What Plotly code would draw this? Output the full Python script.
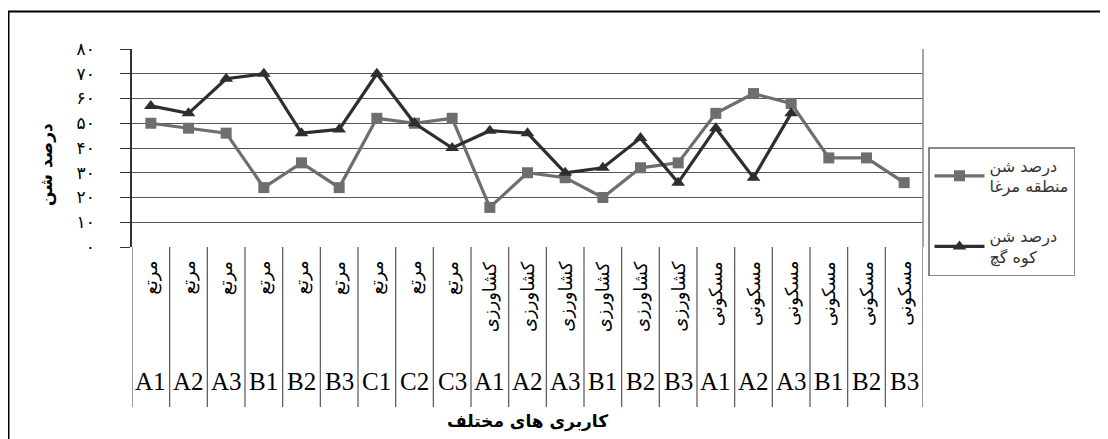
import plotly.graph_objects as go

# ---- data ----
land_use = ["مرتع"] * 9 + ["کشاورزی"] * 6 + ["مسکونی"] * 6
codes = ["A1", "A2", "A3", "B1", "B2", "B3", "C1", "C2", "C3",
         "A1", "A2", "A3", "B1", "B2", "B3",
         "A1", "A2", "A3", "B1", "B2", "B3"]
sand_margha = [50, 48, 46, 24, 34, 24, 52, 50, 52, 16, 30, 28, 20, 32, 34,
               54, 62, 58, 36, 36, 26]
sand_kuh_gach = [57, 54, 68, 70, 46, 47.5, 70, 50, 40, 47, 46, 30, 32, 44, 26,
                 48, 28, 54, None, None, None]
name_margha = "درصد شن<br>منطقه مرغا"
name_kuh = "درصد شن<br>کوه گچ"
y_ticks = [0, 10, 20, 30, 40, 50, 60, 70, 80]
y_ticktext = ["۰", "۱۰", "۲۰", "۳۰", "۴۰", "۵۰", "۶۰", "۷۰", "۸۰"]
y_title = "درصد شن"
x_title = "کاربری های مختلف"

n = len(codes)
xs = list(range(n))

W, H = 1108, 439
OFF = 8  # page body offset
L, R, T, B = 124, 193, 41, 200
pw, ph = W - L - R, H - T - B

def sx(p):  # screen pixel -> paper x
    return (p - OFF - L) / pw

def sy(p):  # screen pixel -> paper y
    return (H - B - (p - OFF)) / ph

fig = go.Figure()
fig.add_trace(go.Scatter(
    x=xs, y=sand_margha, name=name_margha, mode="lines+markers",
    line=dict(color="#6e6e6e", width=3.2),
    marker=dict(symbol="square", size=11, color="#6e6e6e"),
    legendgroup="a"))
fig.add_trace(go.Scatter(
    x=xs, y=sand_kuh_gach, name=name_kuh, mode="lines+markers",
    line=dict(color="#2e2e2e", width=3.2),
    marker=dict(symbol="triangle-up", size=12, color="#2e2e2e"),
    legendgroup="b"))

shapes = []
# category table dividers
for b in range(n + 1):
    shapes.append(dict(type="line", xref="x", yref="paper",
                       x0=b - 0.5, x1=b - 0.5, y0=0, y1=sy(407),
                       line=dict(color="#555", width=1.2)))
# right edge of plot area
shapes.append(dict(type="line", xref="paper", yref="paper", x0=1, x1=1,
                   y0=0, y1=1, line=dict(color="#888", width=1.5)))
# outer frame
shapes.append(dict(type="rect", xref="paper", yref="paper",
                   x0=sx(8.5), x1=sx(1125), y0=sy(11.5), y1=sy(460),
                   line=dict(color="black", width=2)))

annotations = []
for i in range(n):
    annotations.append(dict(x=i, xref="x", y=sy(259), yref="paper",
                            text=land_use[i], textangle=-90, showarrow=False,
                            xanchor="center", yanchor="top",
                            font=dict(family="DejaVu Sans", size=18, color="black")))
    annotations.append(dict(x=i, xref="x", y=sy(381), yref="paper",
                            text=codes[i], showarrow=False,
                            xanchor="center", yanchor="middle",
                            font=dict(family="Liberation Serif", size=25, color="black")))
annotations.append(dict(x=sx(46), xref="paper", y=sy(165), yref="paper",
                        text="<b>" + y_title + "</b>", textangle=-90, showarrow=False,
                        xanchor="center", yanchor="middle",
                        font=dict(family="DejaVu Sans", size=17, color="black")))
annotations.append(dict(x=sx(527), xref="paper", y=sy(421), yref="paper",
                        text="<b>" + x_title + "</b>", showarrow=False,
                        xanchor="center", yanchor="middle",
                        font=dict(family="DejaVu Sans", size=17, color="black")))

fig.update_layout(
    width=W, height=H, autosize=False,
    margin=dict(l=L, r=R, t=T, b=B),
    paper_bgcolor="white", plot_bgcolor="white",
    shapes=shapes, annotations=annotations,
    legend=dict(x=sx(928), y=sy(147), xanchor="left", yanchor="top",
                bordercolor="#888", borderwidth=1.5, bgcolor="white",
                font=dict(family="DejaVu Sans", size=16, color="#333"),
                itemwidth=50, entrywidth=180, entrywidthmode="pixels",
                tracegroupgap=26, traceorder="grouped"),
    showlegend=True,
)
fig.update_xaxes(range=[-0.5, n - 0.5], showgrid=False, zeroline=False,
                 showticklabels=False, ticks="", showline=False, fixedrange=True)
fig.update_yaxes(range=[0, 80], tickvals=y_ticks, ticktext=y_ticktext,
                 showgrid=True, gridcolor="#555", gridwidth=1.2,
                 zeroline=False, showline=True, linecolor="#333", linewidth=1.5,
                 ticks="outside", ticklen=10, tickcolor="#333", tickwidth=1.2,
                 ticklabelstandoff=22,
                 tickfont=dict(family="DejaVu Sans", size=17, color="black"),
                 fixedrange=True)

fig.write_html("out.html")
